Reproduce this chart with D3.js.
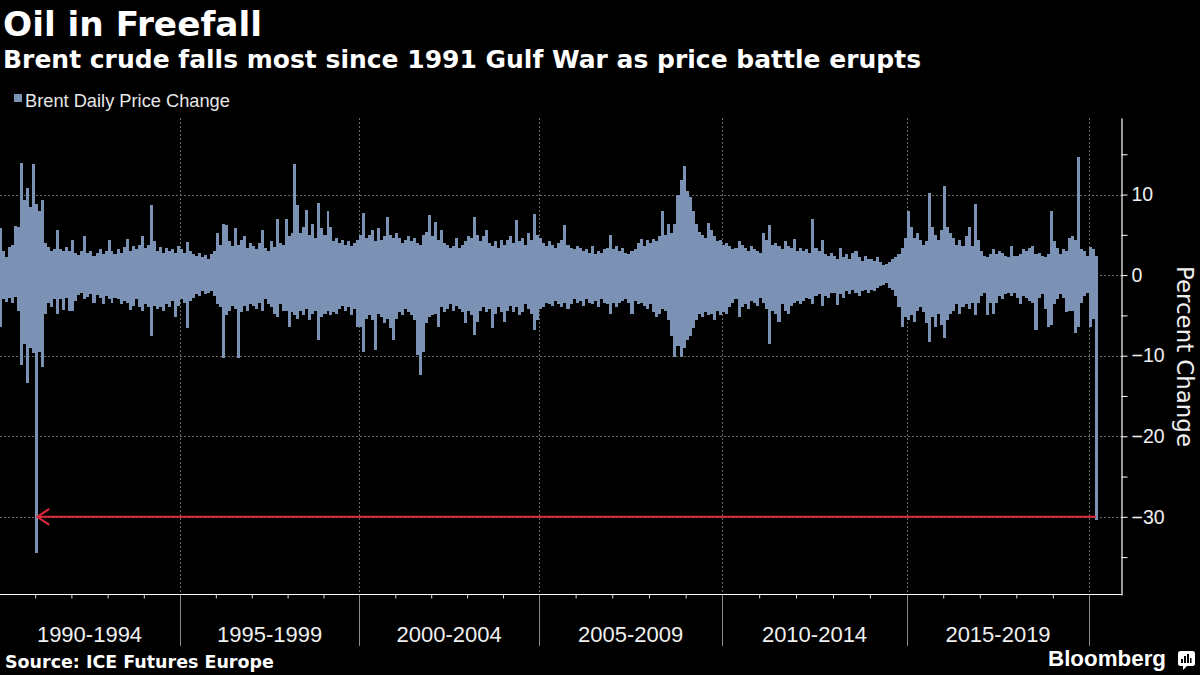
<!DOCTYPE html>
<html><head><meta charset="utf-8">
<script src="https://cdn.jsdelivr.net/npm/d3@7"></script>
<style>
html,body{margin:0;padding:0;background:#000;}
svg{display:block;}
</style></head><body>
<svg id="c" width="1200" height="675"></svg>
<script>
// Largest daily gain / loss (percent) of Brent within each month
const gain1990s = [
  5.8,3.0,2.3,3.5,3.8,6.1,6.0,13.9,9.3,10.8,8.5,13.8,   // 1990
  8.8,8.0,9.3,4.0,3.5,3.0,3.3,5.6,3.2,3.0,3.5,3.0,      // 1991
  4.3,2.8,2.5,3.0,4.8,2.8,3.0,2.4,2.8,3.2,2.6,3.0,      // 1992
  4.4,3.0,2.6,3.2,2.8,3.5,4.5,3.0,3.6,3.3,3.8,4.8,      // 1993
  3.4,3.8,8.7,4.2,3.0,3.5,2.8,3.4,3.0,3.2,2.7,3.6,      // 1994
  3.2,2.8,4.1,3.0,2.6,2.4,2.8,2.2,2.5,2.0,2.6,3.0,      // 1995
  5.2,3.8,6.4,6.2,4.2,3.6,5.9,3.8,4.4,4.8,3.4,4.0,      // 1996
  3.6,3.2,4.0,5.6,3.4,3.0,4.2,3.5,7.0,4.0,3.8,7.0,      // 1997
  4.8,5.2,13.8,8.7,5.2,6.0,8.1,5.0,6.4,4.6,8.9,5.8,     // 1998
  5.0,7.9,6.0,4.2,4.6,4.0,4.4,3.8,4.2,3.6,4.0,4.4       // 1999
];
const loss1990s = [
  -6.4,-3.0,-3.3,-2.8,-3.5,-2.7,-4.5,-11.2,-8.5,-13.4,-9.0,-9.7,
  -34.5,-9.5,-11.4,-4.8,-3.5,-4.0,-3.0,-4.8,-3.0,-4.3,-2.8,-4.5,
  -4.5,-3.2,-2.5,-2.2,-3.0,-2.7,-2.3,-3.4,-2.5,-2.8,-3.6,-2.6,
  -3.0,-3.5,-2.8,-3.0,-3.6,-3.2,-3.4,-4.3,-3.8,-3.0,-4.0,-4.4,
  -3.6,-4.0,-7.6,-3.8,-4.2,-3.9,-4.5,-3.6,-4.0,-3.2,-5.2,-3.8,
  -3.0,-3.4,-6.6,-3.2,-2.8,-2.4,-2.6,-2.0,-2.4,-2.2,-2.0,-2.6,
  -3.6,-4.0,-10.3,-5.0,-4.4,-3.8,-4.2,-10.3,-4.6,-3.8,-4.4,-3.6,
  -3.8,-4.2,-3.5,-4.4,-3.0,-3.6,-4.0,-4.8,-5.2,-3.6,-4.4,-4.5,
  -6.4,-4.6,-5.0,-5.4,-4.4,-5.0,-4.2,-5.6,-4.8,-4.4,-8.1,-5.2,
  -4.8,-4.4,-5.0,-4.6,-4.8,-4.2,-3.8,-4.4,-4.0,-5.0,-4.2,-6.4
];
const gain2000s = [
  5.0,7.7,4.6,5.0,5.6,4.2,5.8,4.4,4.8,7.2,5.0,4.6,      // 2000
  5.2,4.6,4.0,4.4,4.8,4.2,4.6,4.0,3.8,5.0,5.4,7.4,      // 2001
  4.8,6.6,4.4,5.6,4.0,3.8,3.4,3.6,4.6,3.4,3.8,4.2,      // 2002
  4.8,4.6,7.2,5.0,4.2,4.8,5.6,4.0,3.6,4.2,3.4,4.4,      // 2003
  3.8,4.4,4.8,4.0,6.8,4.2,4.6,3.8,5.2,4.4,7.6,5.0,      // 2004
  4.6,4.0,3.6,4.2,3.8,3.4,4.0,4.4,6.2,3.8,3.4,3.2,      // 2005
  3.6,3.4,3.0,3.2,2.8,3.6,2.6,3.0,2.8,3.2,3.4,5.0,      // 2006
  3.2,3.6,3.0,3.4,2.8,2.6,3.0,3.2,4.0,4.5,3.6,4.3,      // 2007
  4.0,4.5,4.2,4.8,8.0,5.0,6.4,5.2,6.4,9.9,11.8,13.5,    // 2008
  10.4,9.7,8.0,6.4,5.4,5.0,4.6,6.5,5.6,4.8,4.2,4.3      // 2009
];
const loss2000s = [
  -6.4,-9.5,-5.4,-5.0,-5.6,-9.3,-4.8,-5.2,-6.0,-5.4,-6.6,-8.1,
  -5.4,-4.6,-5.0,-4.2,-4.6,-5.0,-5.6,-9.9,-12.4,-9.5,-6.0,-5.2,
  -5.0,-4.8,-6.4,-4.0,-4.6,-4.2,-3.6,-4.4,-3.8,-4.2,-4.6,-6.0,
  -4.4,-5.0,-7.4,-5.8,-4.4,-4.0,-4.6,-4.2,-6.6,-4.8,-4.0,-4.6,
  -5.8,-4.4,-3.8,-4.6,-4.0,-5.0,-4.6,-3.6,-4.2,-4.8,-6.8,-5.6,
  -4.2,-4.0,-3.4,-3.6,-3.8,-3.2,-3.6,-3.9,-3.4,-4.2,-3.6,-3.0,
  -3.4,-3.2,-3.8,-3.0,-3.4,-3.6,-3.2,-3.9,-3.0,-3.4,-3.6,-4.8,
  -3.4,-4.0,-3.4,-3.2,-3.0,-3.4,-4.8,-3.2,-3.6,-3.4,-3.8,-4.2,
  -3.6,-4.6,-5.2,-4.8,-4.2,-4.4,-5.6,-7.6,-10.1,-8.8,-10.2,-9.0,
  -8.1,-7.6,-6.6,-5.6,-4.8,-5.2,-4.6,-5.0,-4.8,-5.6,-4.4,-5.0
];
const gain2010s = [
  3.8,4.0,3.6,3.2,3.4,4.2,3.8,3.4,3.0,3.6,3.2,3.0,      // 2010
  2.8,5.2,4.4,6.2,3.8,4.0,3.6,3.2,4.2,3.6,3.4,4.5,      // 2011
  3.0,3.4,3.0,3.2,2.8,7.0,3.4,3.0,4.3,2.6,2.4,2.8,      // 2012
  2.4,2.0,3.4,2.2,2.6,2.0,2.7,3.0,2.2,1.8,2.4,2.0,      // 2013
  2.0,1.8,2.2,1.6,1.2,1.4,1.6,2.0,2.2,2.6,3.4,4.6,      // 2014
  7.9,6.0,4.6,5.2,4.4,3.8,4.2,10.2,6.0,5.0,4.4,5.6,     // 2015
  11.0,6.0,5.2,4.6,3.8,4.4,3.6,4.8,6.0,3.6,8.8,4.4,     // 2016
  3.0,2.4,2.2,2.6,3.2,2.6,3.0,2.8,2.4,2.2,3.6,2.4,      // 2017
  2.4,2.6,3.2,3.0,3.4,3.6,2.6,2.8,2.4,2.2,2.6,7.9,      // 2018
  4.2,3.4,2.6,3.2,3.0,4.6,4.8,4.3,14.6,3.2,3.0,2.4      // 2019
];
const loss2010s = [
  -4.6,-4.8,-4.0,-3.4,-3.0,-5.2,-4.0,-3.6,-4.2,-3.2,-3.4,-3.8,
  -2.8,-3.4,-4.2,-8.5,-4.4,-4.8,-5.8,-3.6,-4.4,-4.8,-3.8,-3.4,
  -3.2,-3.6,-3.2,-2.8,-3.0,-3.6,-2.6,-2.4,-3.8,-2.6,-2.8,-2.2,
  -2.2,-3.7,-2.4,-2.8,-2.0,-2.4,-1.8,-2.2,-2.6,-2.0,-1.8,-2.2,
  -1.8,-2.0,-1.6,-1.4,-1.2,-1.0,-1.6,-1.8,-2.6,-4.0,-6.4,-5.2,
  -5.6,-5.0,-5.8,-4.4,-4.0,-4.6,-6.0,-8.3,-5.2,-6.4,-4.8,-6.2,
  -7.8,-5.6,-4.8,-4.4,-3.6,-4.8,-4.0,-3.6,-4.2,-3.4,-5.0,-3.4,
  -2.6,-2.2,-5.0,-3.4,-4.8,-3.4,-2.6,-3.0,-2.4,-2.2,-2.6,-2.2,
  -2.8,-3.6,-2.6,-2.8,-3.2,-3.4,-6.8,-2.8,-2.4,-4.2,-6.4,-6.2,
  -3.6,-3.0,-2.4,-2.8,-4.6,-4.4,-4.4,-7.2,-6.5,-3.4,-2.6,-2.2
];
const gain2020 = [3.5,3.2,2.4];       // Jan - Mar 9, 2020
const loss2020 = [-6.4,-5.4,-30.4];

const startYear = 1990;
const periodLabels = ["1990-1994","1995-1999","2000-2004","2005-2009","2010-2014","2015-2019"];
const periodStarts = [1990,1995,2000,2005,2010,2015,2020];
const yMajorTicks = [10,0,-10,-20,-30];
const yMinorTicks = [15,5,-5,-15,-25,-35];
const arrowFrom = new Date(2020,2,9);   // latest plunge
const arrowTo = new Date(1991,0,17);    // Gulf War plunge
const arrowLevel = -30;

const gains = [].concat(gain1990s, gain2000s, gain2010s, gain2020);
const losses = [].concat(loss1990s, loss2000s, loss2010s, loss2020);
const monthStart = i => new Date(startYear, i, 1);

const barColor = "#7b92b5";
const svg = d3.select("#c");
svg.append("rect").attr("width",1200).attr("height",675).attr("fill","#000");

const axisX = 1121.5, axisY = 594.5;
const x = d3.scaleTime()
  .domain(periodStarts.map(yr => new Date(yr,0,1)))
  .range([-1, 180, 359.3, 539, 722.3, 906.7, 1089.3]);
const y = d3.scaleLinear().domain([-39.7, 19.5]).range([595, 118]);

// grid
const grid = svg.append("g").attr("stroke","#6a6a6a").attr("stroke-width",1).attr("stroke-dasharray","2,2");
grid.selectAll("line.h").data(yMajorTicks).join("line").attr("class","h")
  .attr("x1",0).attr("x2",axisX)
  .attr("y1",d=>Math.round(y(d))+0.5).attr("y2",d=>Math.round(y(d))+0.5);
grid.selectAll("line.v").data(periodStarts.slice(1)).join("line").attr("class","v")
  .attr("x1",d=>Math.round(x(new Date(d,0,1)))+0.5).attr("x2",d=>Math.round(x(new Date(d,0,1)))+0.5)
  .attr("y1",y(19.5)).attr("y2",axisY);

// bars (one column per month, snapped to whole pixels so neighbours touch)
const bars = svg.append("g").attr("fill",barColor).attr("shape-rendering","crispEdges");
const bx = i => Math.round(x(monthStart(i)));
const bw = i => Math.round(x(monthStart(i+1))) - Math.round(x(monthStart(i)));
bars.selectAll("rect.gain").data(gains).join("rect").attr("class","gain")
  .attr("x",(d,i)=>bx(i)).attr("width",(d,i)=>bw(i))
  .attr("y",d=>y(d)).attr("height",d=>y(0)-y(d));
bars.selectAll("rect.loss").data(losses).join("rect").attr("class","loss")
  .attr("x",(d,i)=>bx(i)).attr("width",(d,i)=>bw(i))
  .attr("y",y(0)).attr("height",d=>y(d)-y(0));

// red annotation arrow
const ay = y(arrowLevel);
const ann = svg.append("g").attr("stroke","#e0283c").attr("stroke-width",2).attr("fill","none");
ann.append("line").attr("x1",x(arrowFrom)).attr("x2",x(arrowTo)+1).attr("y1",ay).attr("y2",ay);
ann.append("path").attr("d",`M${x(arrowTo)+12.5},${ay-8} L${x(arrowTo)+0.5},${ay} L${x(arrowTo)+12.5},${ay+8}`);

// x axis
svg.append("line").attr("x1",0).attr("x2",axisX).attr("y1",axisY).attr("y2",axisY)
  .attr("stroke","#fff").attr("stroke-width",1.2);
const yearTicks = d3.range(1991, 2020).filter(yr => yr % 5 !== 0).map(yr => new Date(yr,0,1));
const xAxis = d3.axisBottom(x).tickValues(yearTicks).tickSize(4).tickFormat("").tickSizeOuter(0);
const gx = svg.append("g").attr("transform",`translate(0,${axisY})`).call(xAxis);
gx.select(".domain").remove();
gx.selectAll(".tick line").attr("stroke","#ddd");
svg.selectAll("line.sep").data(periodStarts.slice(1)).join("line").attr("class","sep")
  .attr("x1",d=>Math.round(x(new Date(d,0,1)))+0.5).attr("x2",d=>Math.round(x(new Date(d,0,1)))+0.5)
  .attr("y1",axisY).attr("y2",646).attr("stroke","#8c8c8c").attr("stroke-width",1);
svg.selectAll("text.period").data(periodLabels).join("text").attr("class","period")
  .attr("x",(d,i)=>(x(new Date(periodStarts[i],0,1))+x(new Date(periodStarts[i+1],0,1)))/2)
  .attr("y",642).attr("text-anchor","middle")
  .attr("font-family","Liberation Sans, Arial, sans-serif").attr("font-size",22)
  .attr("fill","#f0f0f0").text(d=>d);

// y axis (right)
const yAxis = d3.axisRight(y).tickValues(yMajorTicks).tickSize(6).tickPadding(4).tickSizeOuter(0).tickFormat(d3.format("d"));
const gy = svg.append("g").attr("transform",`translate(${axisX},0)`).call(yAxis);
gy.select(".domain").attr("stroke","#fff").attr("stroke-width",1.2);
gy.selectAll(".tick line").attr("stroke","#fff");
gy.selectAll(".tick text").attr("fill","#f0f0f0")
  .attr("font-family","Liberation Sans, Arial, sans-serif").attr("font-size",19.5);
const yMinor = d3.axisRight(y).tickValues(yMinorTicks).tickSize(6).tickFormat("").tickSizeOuter(0);
const gym = svg.append("g").attr("transform",`translate(${axisX},0)`).call(yMinor);
gym.select(".domain").remove();
gym.selectAll(".tick line").attr("stroke","#fff");

svg.append("text").attr("transform",`translate(1185,${(y(19.5)+y(-39.7))/2})rotate(90)`)
  .attr("text-anchor","middle").attr("dy","0.35em")
  .attr("font-family","DejaVu Sans, sans-serif").attr("font-size",22)
  .attr("fill","#f0f0f0").attr("class","ytitle").text("Percent Change");

// titles
function fit(sel, w){
  const cur = sel.node().getComputedTextLength();
  const fs = parseFloat(sel.attr("font-size"));
  sel.attr("font-size", (fs*w/cur).toFixed(2));
  return sel;
}
fit(svg.append("text").attr("x",3).attr("y",36).attr("font-family","DejaVu Sans, sans-serif")
  .attr("font-weight","bold").attr("font-size",34).attr("fill","#fff").text("Oil in Freefall"), 259);
fit(svg.append("text").attr("x",3).attr("y",68).attr("font-family","DejaVu Sans, sans-serif")
  .attr("font-weight","bold").attr("font-size",22).attr("fill","#fff")
  .text("Brent crude falls most since 1991 Gulf War as price battle erupts"), 918);
fit(svg.select(".ytitle"), 181);

// legend
svg.append("rect").attr("x",14).attr("y",94).attr("width",8).attr("height",8).attr("fill",barColor);
fit(svg.append("text").attr("x",25).attr("y",107).attr("font-family","Liberation Sans, Arial, sans-serif")
  .attr("font-size",18).attr("fill","#e6e6e6").text("Brent Daily Price Change"), 205);

// footer
fit(svg.append("text").attr("x",5).attr("y",668).attr("font-family","DejaVu Sans, sans-serif")
  .attr("font-weight","bold").attr("font-size",17).attr("fill","#fff").text("Source: ICE Futures Europe"), 269);
fit(svg.append("text").attr("x",1048).attr("y",666).attr("font-family","Liberation Sans, Arial, sans-serif")
  .attr("font-weight","bold").attr("font-size",22).attr("fill","#fff").text("Bloomberg"), 118);
const logo = svg.append("g").attr("transform","translate(1178,651)");
logo.append("rect").attr("width",17).attr("height",15).attr("rx",2.5).attr("fill","#fff");
logo.append("path").attr("d","M5,14.5 L5,19 L9.5,14.5 Z").attr("fill","#fff");
[[4,8,2],[7,5,2],[10,3,2],[13,7,1.5]].forEach(([lx,ly,w])=>{
  logo.append("rect").attr("x",lx-1).attr("y",ly).attr("width",w).attr("height",12-ly).attr("fill","#000");
});
</script>
</body></html>
